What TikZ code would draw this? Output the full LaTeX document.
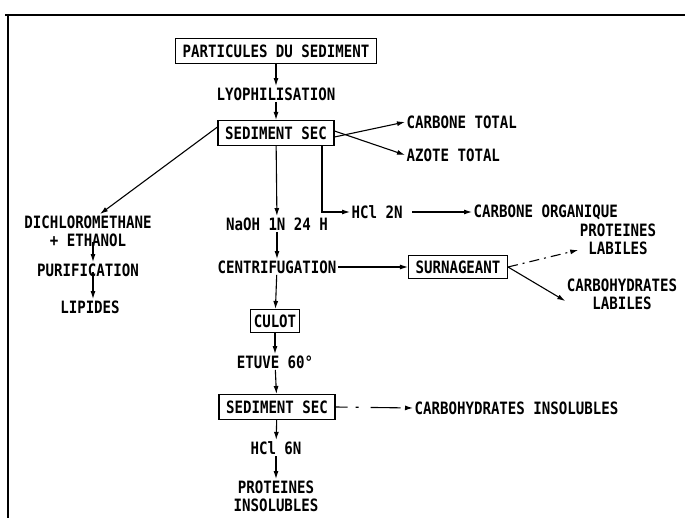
\documentclass[tikz,border=0pt]{standalone}
\usepackage{fontspec}
\newfontfamily\scanfont[FakeStretch=0.83]{DejaVu Sans Mono Bold}
\usetikzlibrary{positioning,arrows.meta}

\begin{document}
\begin{tikzpicture}[x=1pt,y=-1pt,line width=1.1pt,
lab/.style={font=\scanfont\fontsize{17}{18}\selectfont,inner sep=1pt,align=center},
box/.style={lab,draw,inner xsep=7pt,minimum height=25pt},
link/.style={-{Latex[length=8pt,width=5pt]},line width=1.1pt}]
 \useasboundingbox (0,0) rectangle (685,518);
 \draw[line width=1.6pt] (5,15) -- (685,15);
 \draw[line width=1.6pt] (8,15) -- (8,518);
 % main column
 \node[box] (part) at (276,51) {PARTICULES DU SEDIMENT};
 \node[lab] (lyo) at (276,94) {LYOPHILISATION};
 \node[box] (sec1) at (276,133) {SEDIMENT SEC};
 \node[lab] (naoh) at (277,224) {NaOH 1N 24 H};
 \node[lab] (cent) at (277,267) {CENTRIFUGATION};
 \node[box,inner xsep=3pt,minimum height=23pt] (culot) at (275,321) {CULOT};
 \node[lab] (etuve) at (275,362) {ETUVE 60°};
 \node[box] (sec2) at (277,407) {SEDIMENT SEC};
 \node[lab] (hcl6) at (276,448) {HCl 6N};
 \node[lab] (pins) at (276,496) {PROTEINES\\INSOLUBLES};
 % right side
 \node[lab,anchor=west] (ctot) at (405,122) {CARBONE TOTAL};
 \node[lab,anchor=west] (ntot) at (405,155) {AZOTE TOTAL};
 \node[lab,anchor=west] (hcl2) at (350,212) {HCl 2N};
 \node[lab,anchor=west] (corg) at (472,212) {CARBONE ORGANIQUE};
 \node[box,minimum height=23pt] (surn) at (458,267) {SURNAGEANT};
 \node[lab] (plab) at (618,239) {PROTEINES\\LABILES};
 \node[lab] (clab) at (622,294) {CARBOHYDRATES\\LABILES};
 \node[lab,anchor=west] (cins) at (413,408) {CARBOHYDRATES INSOLUBLES};
 % left side
 \node[lab] (dcm) at (88,231) {DICHLOROMETHANE\\+ ETHANOL};
 \node[lab] (puri) at (88,270) {PURIFICATION};
 \node[lab] (lip) at (90,307) {LIPIDES};
 % connectors
 \draw[link] (part) -- (lyo);
 \draw[link] (lyo) -- (sec1);
 \draw[link] ([yshift=-4pt]sec1.east) -- (ctot.west);
 \draw[link] ([yshift=2pt]sec1.east) -- (ntot.west);
 \draw[link] ([yshift=6pt]sec1.west) -- ([xshift=12pt]dcm.north);
 \draw[link] (sec1) -- (naoh);
 \draw[link] ([xshift=46pt]sec1.south) |- (hcl2.west);
 \draw[link] (hcl2.east) ++(8pt,0) -- (corg.west);
 \draw[link] (naoh) -- (cent);
 \draw[link] (cent.east) -- (surn.west);
 \draw[link,dash pattern=on 10pt off 5pt on 2pt off 5pt] (surn.east) -- ([yshift=-11pt]plab.west);
 \draw[link] (surn.east) -- ([yshift=-7pt]clab.west);
 \draw[link] (cent) -- (culot);
 \draw[link] (culot) -- (etuve);
 \draw[link] (etuve) -- (sec2);
 \draw[link,dash pattern=on 12pt off 8pt on 3pt off 12pt on 30pt] (sec2.east) -- (cins.west);
 \draw[link] (sec2) -- (hcl6);
 \draw[link] (hcl6) -- (pins);
 \draw[link] ([xshift=5pt,yshift=6pt]dcm.south) -- ([xshift=5pt]puri.north);
 \draw[link] ([xshift=5pt,yshift=6pt]puri.south) -- ([xshift=3pt]lip.north);
\end{tikzpicture}
\end{document}
